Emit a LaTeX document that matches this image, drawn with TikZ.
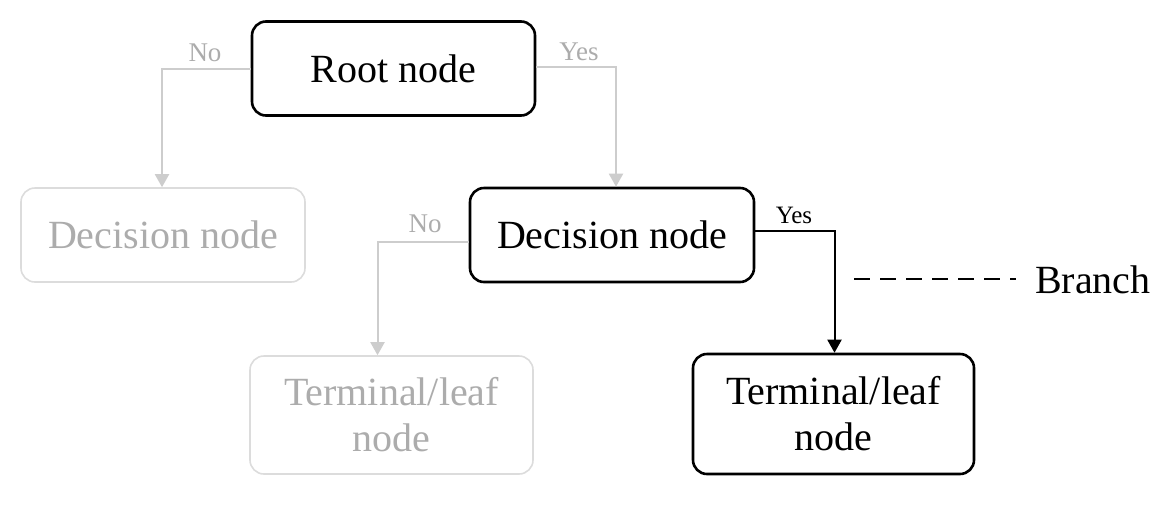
\documentclass[tikz,border=0pt]{standalone}
\usepackage{fontspec}
\setmainfont{Liberation Serif}
\usetikzlibrary{arrows.meta}
\definecolor{lgtext}{RGB}{172,172,172}
\definecolor{lgline}{RGB}{205,205,205}
\definecolor{lgbox}{RGB}{220,220,220}
\begin{document}
\begin{tikzpicture}[x=1pt,y=-1pt,
  box/.style={rounded corners=14pt, minimum width=283pt, minimum height=94pt,
    inner sep=0pt, align=center, font=\fontsize{40}{46}\selectfont},
  activebox/.style={box, draw=black, line width=2.6pt, text=black},
  fadedbox/.style={box, draw=lgbox, line width=1.6pt, text=lgtext},
  fadedarrow/.style={draw=lgline, line width=2pt,
    -{Triangle[width=14pt,length=13pt]}},
  activearrow/.style={draw=black, line width=2pt,
    -{Triangle[width=14pt,length=13pt]}},
  fadedlabel/.style={inner sep=0pt, text=lgtext, font=\fontsize{27}{30}\selectfont},
  activelabel/.style={inner sep=0pt, text=black, font=\fontsize{25}{28}\selectfont},
  branchline/.style={draw=black, line width=2pt, dash pattern=on 16pt off 10pt},
  branchlabel/.style={inner sep=0pt, anchor=west, font=\fontsize{40}{46}\selectfont}
]
\useasboundingbox (0,0) rectangle (1156,507);

% nodes
\node[activebox] (root) at (393.5,68.5) {Root node};
\node[fadedbox, minimum width=284pt] (dl) at (163,235) {Decision node};
\node[activebox, minimum width=284pt] (dr) at (612,235) {Decision node};
\node[fadedbox, minimum height=118pt] (tl) at (391.5,415) {Terminal/leaf\\node};
\node[activebox, minimum width=281pt, minimum height=120pt] (tr) at (833.5,414) {Terminal/leaf\\node};

% connectors
\draw[fadedarrow] (root.west) -| ([xshift=-1pt]dl.north);
\draw[fadedarrow] ([yshift=2pt]root.east) -| ([xshift=4pt]dr.north);
\draw[fadedarrow] ([yshift=-7pt]dr.west) -| ([xshift=-14pt]tl.north);
\draw[activearrow] ([yshift=4pt]dr.east) -| ([xshift=1pt]tr.north);

% labels
\node[fadedlabel] (lno1) at (205,53) {No};
\node[fadedlabel] (lyes1) at (579,52) {Yes};
\node[fadedlabel] (lno2) at (425,224) {No};
\node[activelabel] (lyes2) at (794,215) {Yes};

% branch legend
\coordinate (b1) at (854,279);
\coordinate (b2) at (1016,279);
\draw[branchline] (b1) -- (b2);
\node[branchlabel] (branch) at (1035,280) {Branch};
\end{tikzpicture}
\end{document}
